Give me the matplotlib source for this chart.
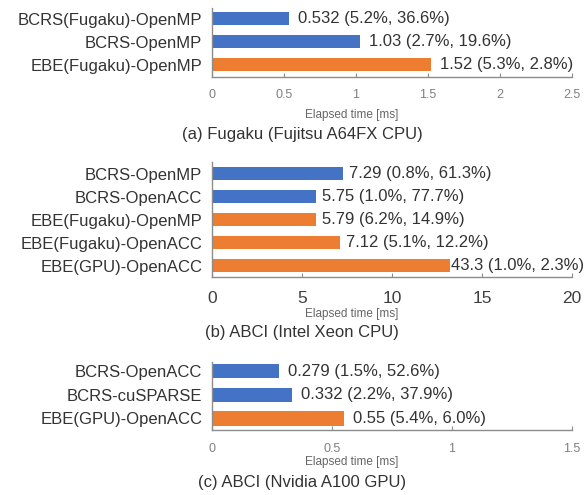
import matplotlib
matplotlib.use("Agg")
import matplotlib.pyplot as plt

plt.rcParams['font.family'] = ['Liberation Sans', 'DejaVu Sans']

BLUE = "#4472C4"
ORANGE = "#ED7D31"

# --- data ---
a_labels = ["BCRS(Fugaku)-OpenMP", "BCRS-OpenMP", "EBE(Fugaku)-OpenMP"]
a_vals = [0.532, 1.03, 1.52]
a_notes = ["(5.2%, 36.6%)", "(2.7%, 19.6%)", "(5.3%, 2.8%)"]
a_kind = ["bcrs", "bcrs", "ebe"]

b_labels = ["BCRS-OpenMP", "BCRS-OpenACC", "EBE(Fugaku)-OpenMP",
            "EBE(Fugaku)-OpenACC", "EBE(GPU)-OpenACC"]
b_vals = [7.29, 5.75, 5.79, 7.12, 43.3]
b_notes = ["(0.8%, 61.3%)", "(1.0%, 77.7%)", "(6.2%, 14.9%)",
           "(5.1%, 12.2%)", "(1.0%, 2.3%)"]
b_kind = ["bcrs", "bcrs", "ebe", "ebe", "ebe"]
b_cut = 13.2  # long bar is drawn cut off in the original

c_labels = ["BCRS-OpenACC", "BCRS-cuSPARSE", "EBE(GPU)-OpenACC"]
c_vals = [0.279, 0.332, 0.55]
c_notes = ["(1.5%, 52.6%)", "(2.2%, 37.9%)", "(5.4%, 6.0%)"]
c_kind = ["bcrs", "bcrs", "ebe"]

a_ticks = [0, 0.5, 1, 1.5, 2, 2.5]
a_ticklabels = ["0", "0.5", "1", "1.5", "2", "2.5"]
b_ticks = [0, 5, 10, 15, 20]
b_ticklabels = ["0", "5", "10", "15", "20"]
c_ticks = [0, 0.5, 1, 1.5]
c_ticklabels = ["0", "0.5", "1", "1.5"]

captions = ["(a) Fugaku (Fujitsu A64FX CPU)",
            "(b) ABCI (Intel Xeon CPU)",
            "(c) ABCI (Nvidia A100 GPU)"]

W, H = 584, 495
fig = plt.figure(figsize=(W / 100, H / 100), dpi=100)


def px_axes(left, top, right, bottom):
    return fig.add_axes([left / W, 1 - bottom / H, (right - left) / W, (bottom - top) / H])


def panel(ax, labels, vals, notes, kinds, xmax, ticks, ticklabels, tick_fs,
          tick_col, tick_pad, ylim, pad, cap=None):
    n = len(labels)
    ys = list(range(n))
    drawn = [min(v, cap) if cap else v for v in vals]
    colors = [BLUE if k == "bcrs" else ORANGE for k in kinds]
    ax.barh(ys, drawn, height=0.6, color=colors)
    for i, (d, v, t) in enumerate(zip(drawn, vals, notes)):
        off = 1.0 if (cap and v > cap) else pad
        ax.annotate(f"{v:g} {t}", (d, i), xytext=(off, 0), textcoords="offset points",
                    va="center", ha="left", fontsize=12, color="#333333",
                    annotation_clip=False)
    ax.set_xlim(0, xmax)
    ax.set_ylim(*ylim)
    ax.set_yticks(ys)
    ax.set_yticklabels(labels, fontsize=12, color="#333333")
    ax.set_xticks(ticks)
    ax.set_xticklabels(ticklabels, fontsize=tick_fs, color=tick_col)
    ax.tick_params(axis="y", length=0, pad=7)
    ax.tick_params(axis="x", direction="in", length=3, color="#8c8c8c", pad=tick_pad)
    for s in ["top", "right"]:
        ax.spines[s].set_visible(False)
    for s in ["left", "bottom"]:
        ax.spines[s].set_color("#8c8c8c")
        ax.spines[s].set_linewidth(1.0)


def under(y_el, y_cap, cap):
    fig.text(352 / W, 1 - y_el / H, "Elapsed time [ms]", ha="center", va="center",
             fontsize=8.5, color="#666666")
    fig.text(302 / W, 1 - y_cap / H, cap, ha="center", va="center",
             fontsize=12, color="#333333")


ax1 = px_axes(212, 8, 572, 77)
panel(ax1, a_labels, a_vals, a_notes, a_kind, 2.5, a_ticks, a_ticklabels, 9,
      "#808080", 9, (2.54, -0.46), 6.5)
under(115, 135, captions[0])

ax2 = px_axes(212, 162, 572, 277)
panel(ax2, b_labels, b_vals, b_notes, b_kind, 20, b_ticks, b_ticklabels, 12.5,
      "#404040", 10, (4.5, -0.5), 4.5, cap=b_cut)
under(314, 332, captions[1])

ax3 = px_axes(212, 362, 572, 430)
panel(ax3, c_labels, c_vals, c_notes, c_kind, 1.5, c_ticks, c_ticklabels, 9,
      "#808080", 9.5, (2.49, -0.4), 6.5)
under(462, 483, captions[2])

fig.savefig("out.png", dpi=100)
